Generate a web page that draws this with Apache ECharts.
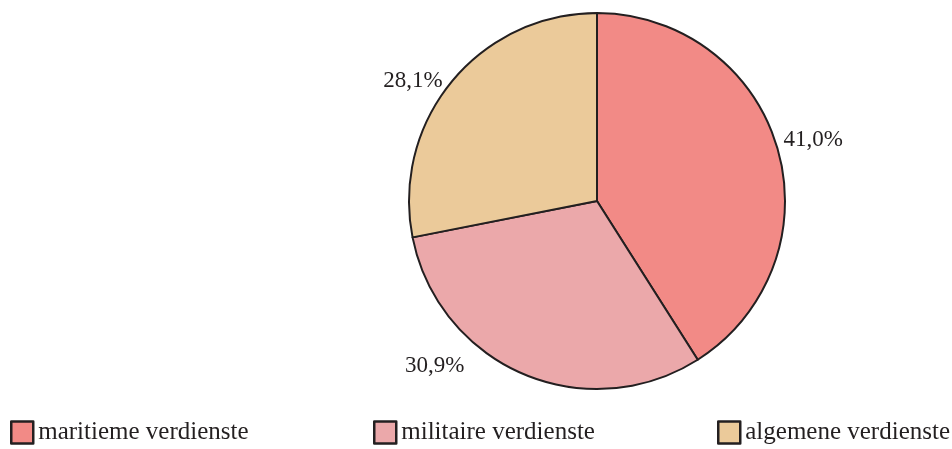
<!DOCTYPE html>
<html><head><meta charset="utf-8">
<script src="https://cdn.jsdelivr.net/npm/echarts@6/dist/echarts.min.js"></script>
<style>html,body{margin:0;padding:0;background:#fff}#c{width:952px;height:449px}</style>
</head><body><div id="c"></div>
<script>
const categories = ['maritieme verdienste', 'militaire verdienste', 'algemene verdienste'];
const values = [41.0, 30.9, 28.1];
const labels = ['41,0%', '30,9%', '28,1%'];
const colors = ['#F28A86', '#EBA8AA', '#EBCA9A'];

const font = '"Liberation Serif", "DejaVu Serif", serif';
const chart = echarts.init(document.getElementById('c'), null, {renderer: 'canvas'});
const legendLefts = [10, 373, 717];
const labelShift = [[-3, -7], [-52, -11], [-1, 2]];
chart.setOption({
  animation: false,
  color: colors,
  legend: categories.map((c, i) => ({
    data: [c], left: legendLefts[i], top: 420, padding: 0, itemWidth: 22, itemHeight: 22, itemGap: 0,
    icon: 'rect',
    textStyle: {fontFamily: font, fontSize: 25, color: '#231f20', padding: [3, 0, 0, 0]},
    itemStyle: {borderColor: '#231f20', borderWidth: 2.5}
  })),
  series: [{
    type: 'pie',
    center: [597, 201],
    radius: [0, 188],
    startAngle: 90,
    clockwise: true,
    data: categories.map((c, i) => ({name: c, value: values[i], itemStyle: {color: colors[i]}})),
    itemStyle: {borderColor: '#231f20', borderWidth: 2},
    label: {
      show: true, position: 'outside', fontFamily: font, fontSize: 23, color: '#231f20',
      formatter: p => labels[p.dataIndex]
    },
    labelLine: {show: false, length: 4, length2: 0},
    labelLayout: p => ({dx: labelShift[p.dataIndex][0], dy: labelShift[p.dataIndex][1]}),
    emphasis: {disabled: true}
  }]
});
</script></body></html>
